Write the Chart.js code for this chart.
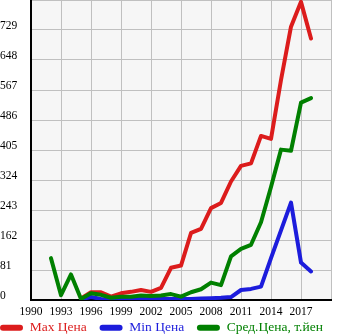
<!DOCTYPE html>
<html>
<head>
<meta charset="utf-8">
<script src="https://cdn.jsdelivr.net/npm/chart.js@4/dist/chart.umd.min.js"></script>
<style>
  body { margin: 0; background: #fff; }
</style>
</head>
<body>
<canvas id="chart" width="345" height="335"></canvas>
<script>
const years = [1992, 1993, 1994, 1995, 1996, 1997, 1998, 1999, 2000, 2001, 2002, 2003, 2004, 2005,
  2006, 2007, 2008, 2009, 2010, 2011, 2012, 2013, 2014, 2015, 2016, 2017, 2018];
const maxPrice = [null, null, null, 4, 21, 21, 9, 18, 22, 27, 22, 33, 87, 93,
  181, 192, 248, 262, 320, 362, 369, 443, 435, 594, 738, 805, 706];
const minPrice = [null, null, null, 2, 8, 3, 1, 2, 2, 3, 3, 3, 3, 3,
  3, 4, 5, 6, 8, 27, 30, 36, 113, 188, 263, 101, 77];
const avgPrice = [113, 13, 69, 3, 18, 14, 6, 9, 9, 12, 11, 12, 16, 9,
  21, 29, 47, 40, 118, 138, 149, 210, 305, 406, 403, 533, 545];
const seriesNames = ['Max Цена', 'Min Цена', 'Сред.Цена, т.йен'];
const seriesColors = ['rgb(220,28,28)', 'rgb(28,28,220)', 'rgb(0,128,0)'];

const font = { family: '"Liberation Serif", "Times New Roman", serif' };
const legendPad = 6;

function toPoints(values) {
  return years.map((y, i) => ({ x: y, y: values[i] }));
}

const plotBg = {
  id: 'plotBg',
  beforeDraw(chart) {
    const a = chart.chartArea;
    chart.ctx.save();
    chart.ctx.fillStyle = '#f6f6f6';
    chart.ctx.fillRect(a.left, a.top, a.right - a.left, a.bottom - a.top);
    chart.ctx.restore();
  }
};

// legend takes no layout room; put it under the axis labels, flush left, one row
const legendShift = {
  id: 'legendShift',
  afterLayout(chart) {
    const lg = chart.legend;
    lg.left = -legendPad;
    lg.right = chart.width + 20;
    lg.top = 321 - legendPad;
    lg.bottom = chart.height;
  }
};

const datasets = [maxPrice, minPrice, avgPrice].map((vals, i) => ({
  label: seriesNames[i],
  data: toPoints(vals),
  borderColor: seriesColors[i],
  backgroundColor: seriesColors[i],
  borderWidth: 4,
  borderCapStyle: 'round',
  borderJoinStyle: 'round',
  pointRadius: 0,
  tension: 0,
  order: 3 - i
}));

new Chart(document.getElementById('chart'), {
  type: 'line',
  data: { datasets },
  plugins: [plotBg, legendShift],
  options: {
    responsive: false,
    animation: false,
    layout: { padding: { left: 0, right: 14, top: 0, bottom: 0 } },
    plugins: {
      tooltip: { enabled: false },
      legend: {
        position: 'bottom',
        align: 'start',
        maxHeight: 1,
        labels: {
          boxWidth: 23,
          boxHeight: 6,
          useBorderRadius: true,
          borderRadius: 3,
          padding: legendPad,
          font: { ...font, size: 13.5 },
          generateLabels(chart) {
            const n = chart.data.datasets.length;
            return chart.data.datasets.map((ds, i) => ({
              // en space after the first labels widens the gap between items
              text: i < n - 1 ? ds.label + '\u2002' : ds.label,
              fillStyle: ds.borderColor,
              strokeStyle: ds.borderColor,
              fontColor: ds.borderColor,
              lineWidth: 0,
              borderRadius: 3,
              hidden: false,
              datasetIndex: i
            }));
          }
        }
      }
    },
    scales: {
      x: {
        type: 'linear',
        min: 1990,
        max: 2020,
        afterFit(scale) {
          scale.height = 34;
          scale.paddingLeft = 0;
          scale.paddingRight = 0;
        },
        ticks: {
          stepSize: 3,
          maxRotation: 0,
          autoSkip: false,
          padding: 5,
          color: '#000',
          font: { ...font, size: 11.5 },
          callback: v => (v >= 2020 ? '' : String(v))
        },
        grid: { color: '#c0c0c0', lineWidth: 1, drawTicks: false },
        border: { color: '#000', width: 2 }
      },
      y: {
        min: 0,
        max: 810,
        afterFit(scale) {
          scale.width = 31;
          scale.paddingTop = 0;
          scale.paddingBottom = 0;
        },
        ticks: {
          stepSize: 81,
          crossAlign: 'far',
          labelOffset: -4,
          color: '#000',
          font: { ...font, size: 11.5 },
          callback: v => (v >= 810 ? '' : String(v))
        },
        grid: { color: '#c0c0c0', lineWidth: 1, drawTicks: false },
        border: { color: '#000', width: 2 }
      }
    }
  }
});
</script>
</body>
</html>
